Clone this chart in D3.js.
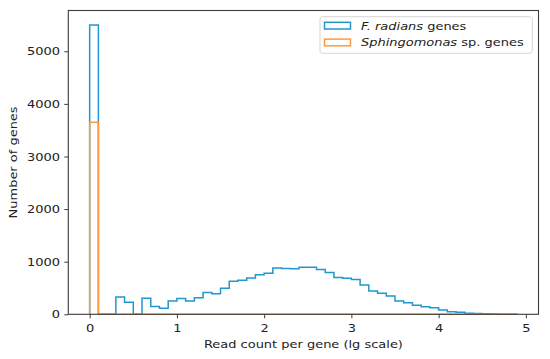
<!DOCTYPE html>
<html>
<head>
<meta charset="utf-8">
<script src="https://cdn.jsdelivr.net/npm/d3@7"></script>
<style>
  html, body { margin: 0; padding: 0; background: #fff; }
  svg { display: block; font-family: "DejaVu Sans", sans-serif; }
</style>
</head>
<body>
<svg id="chart" width="550" height="359"></svg>
<script>
// ---- data ----
const binEdges = [0.0, 0.1, 0.2, 0.3, 0.4, 0.5, 0.6, 0.7, 0.8, 0.9,
                  1.0, 1.1, 1.2, 1.3, 1.4, 1.5, 1.6, 1.7, 1.8, 1.9,
                  2.0, 2.1, 2.2, 2.3, 2.4, 2.5, 2.6, 2.7, 2.8, 2.9,
                  3.0, 3.1, 3.2, 3.3, 3.4, 3.5, 3.6, 3.7, 3.8, 3.9,
                  4.0, 4.1, 4.2, 4.3, 4.4, 4.5, 4.6, 4.7, 4.8, 4.9];
const fradiansCounts = [5500, 0, 0, 330, 230, 0, 305, 150, 115, 255,
                        300, 255, 315, 415, 390, 495, 630, 645, 690, 750,
                        780, 880, 870, 865, 895, 895, 850, 795, 700, 685,
                        660, 555, 445, 400, 350, 255, 220, 170, 145, 125,
                        80, 50, 40, 22, 14, 10, 5, 3, 2];
const sphingoCounts = [3650, 0, 0, 0, 0, 0, 0, 0, 0, 0,
                       0, 0, 0, 0, 0, 0, 0, 0, 0, 0,
                       0, 0, 0, 0, 0, 0, 0, 0, 0, 0,
                       0, 0, 0, 0, 0, 0, 0, 0, 0, 0,
                       0, 0, 0, 0, 0, 0, 0, 0, 0];
const xTicks = [0, 1, 2, 3, 4, 5];
const yTicks = [0, 1000, 2000, 3000, 4000, 5000];
const seriesNames = [
  {italic: "F. radians", rest: " genes"},
  {italic: "Sphingomonas", rest: " sp. genes"}
];
const xLabel = "Read count per gene (lg scale)";
const yLabel = "Number of genes";

// ---- layout ----
const colors = ["#2196cf", "#ff9a3c"];
const plot = {left: 68.3, right: 538.5, top: 10.5, bottom: 314.3};
const fs = 11, sx = 1.18;

const svg = d3.select("#chart");
const xMin = binEdges[0], xMax = binEdges[binEdges.length - 1];
const pad = (xMax - xMin) * 0.05;
const x = d3.scaleLinear().domain([xMin - pad, xMax + pad]).range([plot.left, plot.right]);
const yMaxData = d3.max(fradiansCounts.concat(sphingoCounts));
const y = d3.scaleLinear().domain([0, yMaxData * 1.05]).range([plot.bottom, plot.top]);

function stepPoints(counts) {
  const pts = [[binEdges[0], 0]];
  counts.forEach((c, i) => {
    pts.push([binEdges[i], c]);
    pts.push([binEdges[i + 1], c]);
  });
  pts.push([binEdges[binEdges.length - 1], 0]);
  return pts;
}
const line = d3.line().x(d => x(d[0])).y(d => y(d[1]));

const g = svg.append("g");
[fradiansCounts, sphingoCounts].forEach((counts, i) => {
  g.append("path")
    .attr("d", line(stepPoints(counts)))
    .attr("fill", "none")
    .attr("stroke", colors[i])
    .attr("stroke-width", 1.5)
    .attr("stroke-linejoin", "miter");
});

// frame
svg.append("rect")
  .attr("x", plot.left).attr("y", plot.top)
  .attr("width", plot.right - plot.left).attr("height", plot.bottom - plot.top)
  .attr("fill", "none").attr("stroke", "#3a3a3a").attr("stroke-width", 1.1);

// axes
const xAxis = d3.axisBottom(x).tickValues(xTicks).tickFormat(d3.format("d")).tickSize(4).tickPadding(6);
const gx = svg.append("g").attr("transform", `translate(0,${plot.bottom})`).call(xAxis);
gx.select(".domain").remove();
gx.selectAll(".tick line").attr("stroke", "#3a3a3a").attr("stroke-width", 1);
gx.selectAll(".tick text")
  .attr("font-size", fs).attr("fill", "#222")
  .attr("font-family", "DejaVu Sans")
  .attr("transform", `scale(${sx},1)`);

const yAxis = d3.axisLeft(y).tickValues(yTicks).tickFormat(d3.format("d")).tickSize(4).tickPadding(4);
const gy = svg.append("g").attr("transform", `translate(${plot.left},0)`).call(yAxis);
gy.select(".domain").remove();
gy.selectAll(".tick line").attr("stroke", "#3a3a3a").attr("stroke-width", 1);
gy.selectAll(".tick text")
  .attr("font-size", fs).attr("fill", "#222")
  .attr("font-family", "DejaVu Sans")
  .attr("x", -8.3 / sx)
  .attr("transform", `scale(${sx},1)`);

// axis labels
svg.append("text")
  .attr("transform", `translate(${(plot.left + plot.right) / 2},348) scale(${sx},1)`)
  .attr("text-anchor", "middle").attr("font-size", fs).attr("fill", "#222")
  .text(xLabel);
svg.append("text")
  .attr("transform", `translate(17,${(plot.top + plot.bottom) / 2}) scale(1,${sx}) rotate(-90)`)
  .attr("text-anchor", "middle").attr("font-size", fs).attr("fill", "#222")
  .text(yLabel);

// legend
const lg = svg.append("g");
lg.append("rect")
  .attr("x", 320).attr("y", 16.7).attr("width", 212.3).attr("height", 36.6)
  .attr("rx", 2.5).attr("fill", "#fff").attr("fill-opacity", 0.85)
  .attr("stroke", "#d6d6d6").attr("stroke-width", 1);
seriesNames.forEach((s, i) => {
  const yy = 22.3 + i * 16.8;
  lg.append("rect")
    .attr("x", 324.5).attr("y", yy).attr("width", 26).attr("height", 6.7)
    .attr("fill", "none").attr("stroke", colors[i]).attr("stroke-width", 1.5);
  const t = lg.append("text")
    .attr("transform", `translate(361,${29.5 + i * 16.8}) scale(${sx},1)`)
    .attr("font-size", fs).attr("fill", "#222");
  t.append("tspan").attr("font-style", "italic").text(s.italic);
  t.append("tspan").text(s.rest);
});
</script>
</body>
</html>
